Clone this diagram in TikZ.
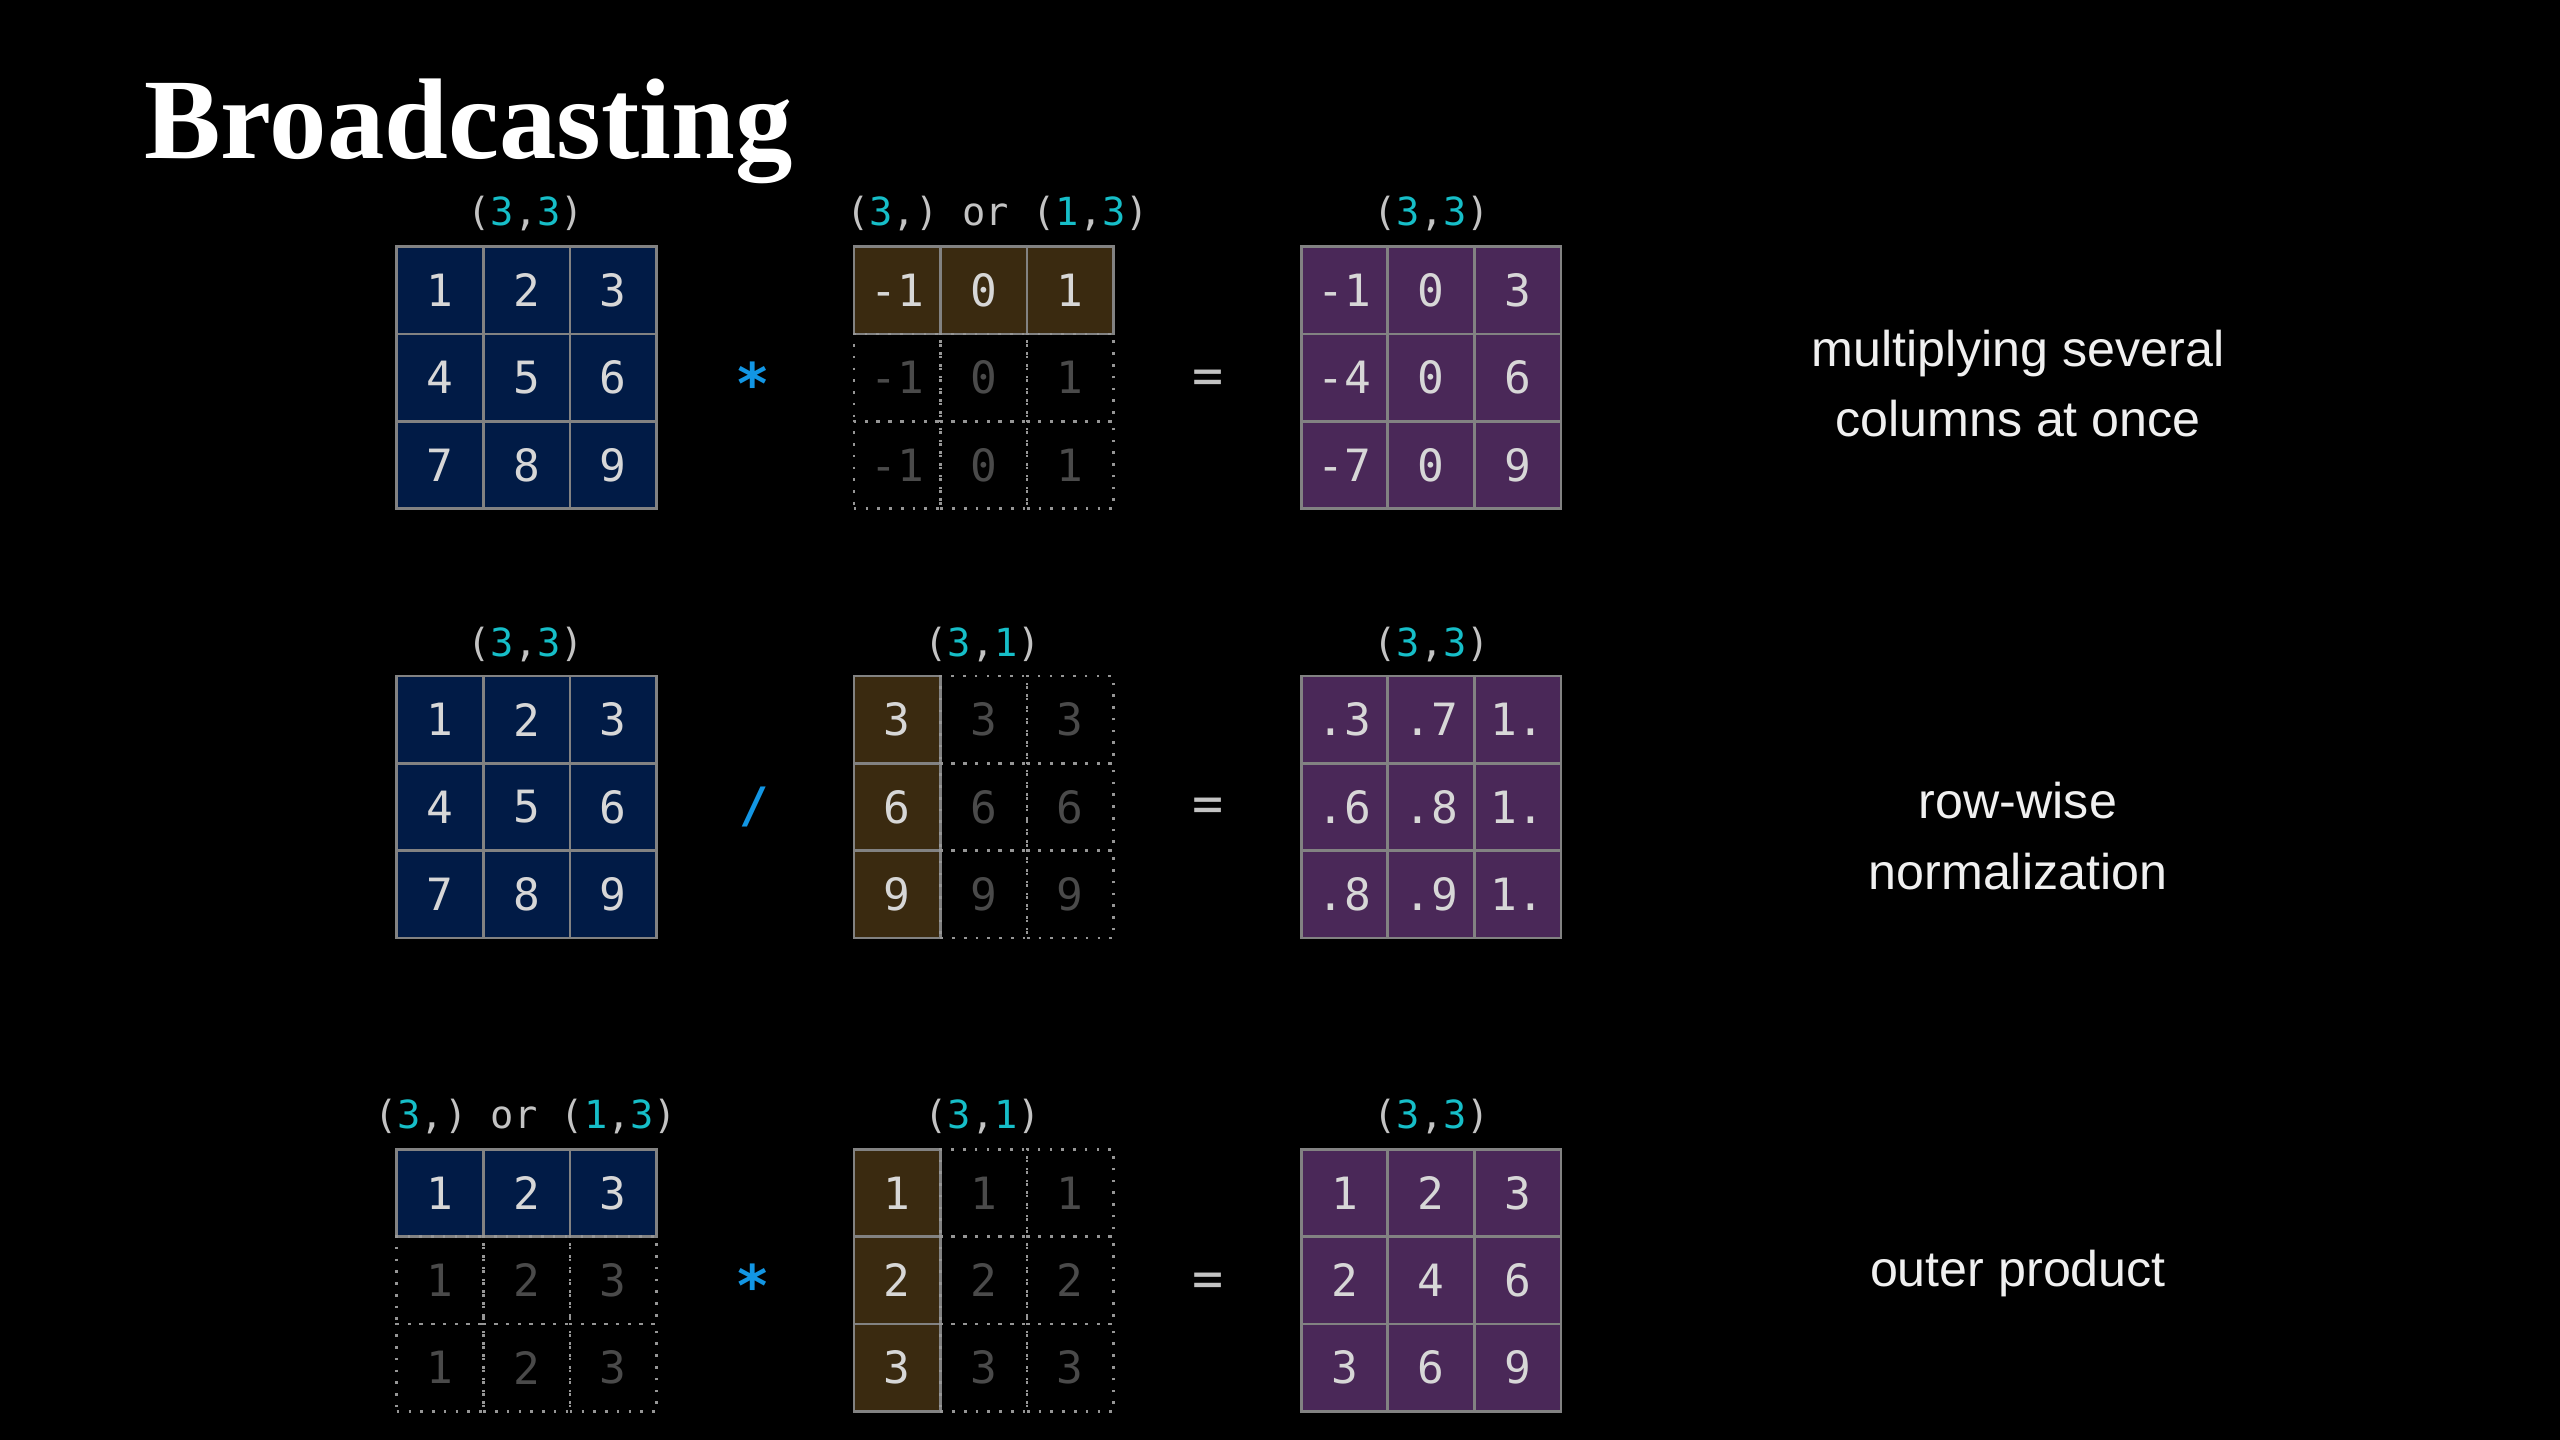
\documentclass[tikz,border=0pt]{standalone}
\usepackage{fontspec}
\setmainfont{Liberation Sans}
\setsansfont{Liberation Sans}
\setmonofont{DejaVu Sans Mono}
\newfontfamily\titlefont{Liberation Serif}
\usepackage{xcolor}
\usepackage{tikz}

\definecolor{blockblue}{RGB}{1,27,70}
\definecolor{blockbrown}{RGB}{58,42,16}
\definecolor{blockpurple}{RGB}{74,40,88}
\definecolor{gridgray}{RGB}{130,130,130}
\definecolor{dotgray}{RGB}{150,150,150}
\definecolor{ghostgray}{RGB}{74,74,74}
\definecolor{celltext}{RGB}{215,215,215}
\definecolor{shapecyan}{RGB}{22,190,200}
\definecolor{parengray}{RGB}{195,195,195}
\definecolor{opblue}{RGB}{18,150,228}

\newcommand{\dimc}[1]{\textcolor{shapecyan}{#1}}

% one 3x3 grid: name, left x, top y, list of value/style
\newcommand{\putgrid}[4]{%
  \foreach \v/\s [count=\k from 0] in {#4} {
    \pgfmathtruncatemacro{\r}{\k/3}
    \pgfmathtruncatemacro{\c}{\k-3*\r}
    \node[\s] (#1-\r-\c) at ({#2+53*\c+26.5},{#3+53.5*\r+26.75}) {\v};
  }}

\tikzset{
  cell/.style={draw=gridgray, line width=0.9pt, minimum width=1.06cm, minimum height=1.07cm,
    inner sep=0pt, text=celltext, font=\ttfamily\fontsize{15.5}{18}\selectfont},
  bcell/.style={cell, fill=blockblue},
  ocell/.style={cell, fill=blockbrown},
  pcell/.style={cell, fill=blockpurple},
  ghost/.style={cell, draw=dotgray, dash pattern=on 0.9pt off 3.2pt, text=ghostgray},
  shapelabel/.style={text=parengray, inner sep=0pt, font=\ttfamily\fontsize{13.5}{16}\selectfont},
  opsign/.style={text=opblue, inner sep=0pt, font=\ttfamily\bfseries\fontsize{20}{24}\selectfont},
  eqsign/.style={text=parengray, inner sep=0pt, font=\ttfamily\fontsize{18}{20}\selectfont},
  caption/.style={text=white!94!black, align=center, font=\sffamily\fontsize{17.5}{24.5}\selectfont}
}

\begin{document}
\begin{tikzpicture}[x=0.02cm, y=-0.02cm]
  \fill[black] (0,0) rectangle (1568,882);
  \useasboundingbox (0,0) rectangle (1568,882);

  \node[anchor=base west, inner sep=0pt, text=white,
    font=\titlefont\bfseries\fontsize{40}{48}\selectfont] (title) at (88,97) {Broadcasting};

  % row 1: columns
  \node[shapelabel] (lab1a) at (322,131) {(\dimc{3},\dimc{3})};
  \node[shapelabel] (lab1b) at (611,131) {(\dimc{3},) or (\dimc{1},\dimc{3})};
  \node[shapelabel] (lab1c) at (877,131) {(\dimc{3},\dimc{3})};
  \putgrid{a1}{243}{151}{1/bcell,2/bcell,3/bcell,4/bcell,5/bcell,6/bcell,7/bcell,8/bcell,9/bcell}
  \putgrid{b1}{523}{151}{-1/ocell,0/ocell,1/ocell,-1/ghost,0/ghost,1/ghost,-1/ghost,0/ghost,1/ghost}
  \putgrid{c1}{797}{151}{-1/pcell,0/pcell,3/pcell,-4/pcell,0/pcell,6/pcell,-7/pcell,0/pcell,9/pcell}
  \node[opsign] (op1) at (461,235) {*};
  \node[eqsign] (eq1) at (740,234) {=};
  \node[caption] (cap1) at (1236,235) {multiplying several\\columns at once};

  % row 2: rows
  \node[shapelabel] (lab2a) at (322,395) {(\dimc{3},\dimc{3})};
  \node[shapelabel] (lab2b) at (602,395) {(\dimc{3},\dimc{1})};
  \node[shapelabel] (lab2c) at (877,395) {(\dimc{3},\dimc{3})};
  \putgrid{a2}{243}{414}{1/bcell,2/bcell,3/bcell,4/bcell,5/bcell,6/bcell,7/bcell,8/bcell,9/bcell}
  \putgrid{b2}{523}{414}{3/ocell,3/ghost,3/ghost,6/ocell,6/ghost,6/ghost,9/ocell,9/ghost,9/ghost}
  \putgrid{c2}{797}{414}{.3/pcell,.7/pcell,1./pcell,.6/pcell,.8/pcell,1./pcell,.8/pcell,.9/pcell,1./pcell}
  \node[opsign, font=\ttfamily\bfseries\fontsize{17}{20}\selectfont] (op2) at (462,494) {/};
  \node[eqsign] (eq2) at (740,496) {=};
  \node[caption] (cap2) at (1236,512) {row-wise\\normalization};

  % row 3: outer product
  \node[shapelabel] (lab3a) at (322,684) {(\dimc{3},) or (\dimc{1},\dimc{3})};
  \node[shapelabel] (lab3b) at (602,684) {(\dimc{3},\dimc{1})};
  \node[shapelabel] (lab3c) at (877,684) {(\dimc{3},\dimc{3})};
  \putgrid{a3}{243}{704}{1/bcell,2/bcell,3/bcell,1/ghost,2/ghost,3/ghost,1/ghost,2/ghost,3/ghost}
  \putgrid{b3}{523}{704}{1/ocell,1/ghost,1/ghost,2/ocell,2/ghost,2/ghost,3/ocell,3/ghost,3/ghost}
  \putgrid{c3}{797}{704}{1/pcell,2/pcell,3/pcell,2/pcell,4/pcell,6/pcell,3/pcell,6/pcell,9/pcell}
  \node[opsign] (op3) at (461,787) {*};
  \node[eqsign] (eq3) at (740,787) {=};
  \node[caption] (cap3) at (1236,780) {outer product};
\end{tikzpicture}
\end{document}
